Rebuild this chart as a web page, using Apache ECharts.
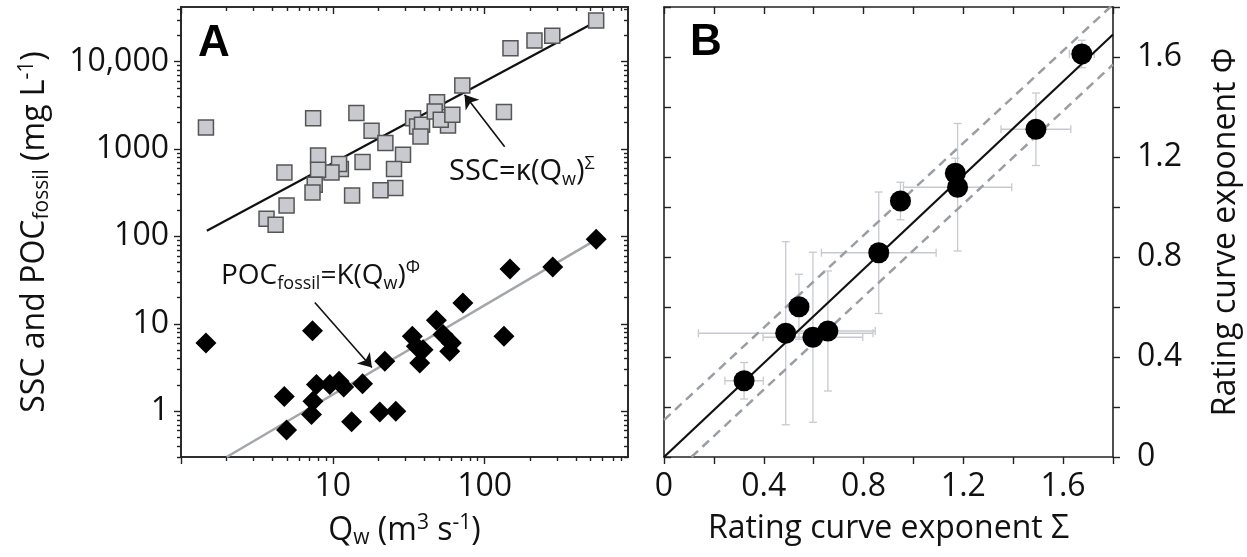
<!DOCTYPE html>
<html><head><meta charset="utf-8">
<script src="https://cdn.jsdelivr.net/npm/echarts@6/dist/echarts.min.js"></script>
<style>html,body{margin:0;padding:0;background:#fff}#c{width:1247px;height:557px}</style>
</head><body><div id="c"></div>
<script>
// ---------- Panel A data ----------
const sscQ   = [1.46, 7.42, 14.3, 18.0, 22.2, 29.0, 25.3, 25.8, 20.6, 15.7, 13.4, 11.3, 11.0, 9.8, 8.0, 8.0, 7.6, 7.35, 4.8, 4.96, 3.66, 4.2, 33.8, 35.9, 38.7, 37.8, 48.6, 46.9, 57.4, 51.4, 61.3, 71.3, 134, 148, 213, 279, 543];
const sscVal = [1760, 2250, 2570, 1610, 1170, 860, 590, 357, 336, 708, 294, 589, 672, 538, 843, 578, 390, 318, 538, 226, 159, 136, 2250, 1810, 1890, 1390, 3430, 2680, 1860, 2160, 2460, 5320, 2640, 14200, 17400, 19700, 29400];
const pocQ   = [1.46, 4.79, 4.96, 7.35, 7.8, 7.4, 7.24, 9.56, 11.0, 11.8, 15.7, 13.3, 20.4, 26.0, 22.0, 33.4, 35.5, 39.3, 37.4, 48.1, 53.2, 60.4, 58.9, 71.9, 134, 147, 281, 543];
const pocVal = [6.05, 1.48, 0.61, 8.36, 2.02, 1.30, 0.92, 2.02, 2.2, 1.9, 2.07, 0.757, 0.98, 1.0, 3.73, 7.2, 5.53, 5.07, 3.57, 10.96, 7.53, 6.05, 4.85, 17.3, 7.2, 42.4, 44.7, 93];
const sscFitQ = [1.48, 571];
const sscFitVal = [116, 30000];
const pocFitQ = [2.0, 543];
const pocFitVal = [0.3, 92];
const qMajorTicks = [1, 10, 100];
const qTickLabels = [10, 100];
const qMinorTicks = [2,3,4,5,6,7,8,9,20,30,40,50,60,70,80,90,200,300,400,500,600,700,800];
const concMajorTicks = [1, 10, 100, 1000, 10000];
const concMinorTicks = [0.3,0.4,0.5,0.6,0.7,0.8,0.9,2,3,4,5,6,7,8,9,20,30,40,50,60,70,80,90,200,300,400,500,600,700,800,900,2000,3000,4000,5000,6000,7000,8000,9000,20000,30000,40000];

// ---------- Panel B data ----------
const sigma    = [0.321, 0.488, 0.541, 0.597, 0.657, 0.861, 0.948, 1.168, 1.177, 1.491, 1.675];
const phi      = [0.305, 0.495, 0.601, 0.479, 0.504, 0.817, 1.024, 1.135, 1.079, 1.311, 1.612];
const sigmaErr = [0.077, 0.35, 0.04, 0.20, 0.19, 0.23, 0.04, 0.03, 0.217, 0.14, 0.05];
const phiErr   = [0.073, 0.366, 0.13, 0.34, 0.24, 0.243, 0.075, 0.06, 0.255, 0.145, 0.055];
const fitSigma = [0, 1.8];
const fitPhi   = [0, 1.69];
const upperSigma = [0, 1.8];
const upperPhi   = [0.148, 1.81];
const lowerSigma = [0.11, 1.8];
const lowerPhi   = [0, 1.57];
const expTicks  = [0, 0.2, 0.4, 0.6, 0.8, 1.0, 1.2, 1.4, 1.6, 1.8];
const expLabels = [0, 0.4, 0.8, 1.2, 1.6];

const FONT = 'Open Sans';
const AX = '#222';
const zip = (a, b) => a.map((v, i) => [v, b[i]]);

function logAxis(grid, pos, min, max, ticks, len, inside, labels, extra) {
  return Object.assign({
    type: 'log', gridIndex: grid, position: pos, min, max, logBase: 10,
    axisLine: { show: true, onZero: false, lineStyle: { color: AX, width: 1.6 } },
    axisTick: { show: true, inside, length: len, customValues: ticks, lineStyle: { color: AX, width: 1.4 } },
    axisLabel: labels ? labels : { show: false },
    splitLine: { show: false }, minorTick: { show: false }
  }, extra || {});
}
function valAxis(grid, pos, inside, labels, extra) {
  return Object.assign({
    type: 'value', gridIndex: grid, position: pos, min: 0, max: 1.8, interval: 0.2,
    axisLine: { show: true, onZero: false, lineStyle: { color: AX, width: 1.6 } },
    axisTick: { show: true, inside, length: 7, customValues: expTicks, lineStyle: { color: AX, width: 1.4 } },
    axisLabel: labels ? labels : { show: false },
    splitLine: { show: false }
  }, extra || {});
}
const labStyle = { color: '#111', fontFamily: FONT, fontSize: 32 };
const richSub = { fontFamily: FONT, fontSize: 21, color: '#111', verticalAlign: 'bottom', lineHeight: 18 };
const richSup = { fontFamily: FONT, fontSize: 21, color: '#111', verticalAlign: 'top', lineHeight: 18 };
const annRich = {
  sub: { fontFamily: FONT, fontSize: 18, fill: '#111', verticalAlign: 'bottom', lineHeight: 14 },
  sup: { fontFamily: FONT, fontSize: 18, fill: '#111', verticalAlign: 'top', lineHeight: 14 }
};

const chart = echarts.init(document.getElementById('c'), null, { renderer: 'canvas' });
const option = {
  backgroundColor: '#fff',
  animation: false,
  grid: [
    { left: 181, top: 7, width: 447, height: 450 },
    { left: 664, top: 7, width: 449, height: 450 }
  ],
  xAxis: [
    logAxis(0, 'bottom', 1, 880, qMajorTicks, 7, false,
      Object.assign({ show: true, margin: 14, customValues: qTickLabels }, labStyle),
      { name: 'Q{sub|w} (m{sup|3} s{sup|-1})', nameLocation: 'middle', nameGap: 56,
        nameTextStyle: Object.assign({ lineHeight: 36, rich: { sub: richSub, sup: richSup } }, labStyle) }),
    logAxis(0, 'bottom', 1, 880, qMinorTicks, 4, false),
    logAxis(0, 'top', 1, 880, qMajorTicks, 7, true),
    logAxis(0, 'top', 1, 880, qMinorTicks, 4, true),
    valAxis(1, 'bottom', false,
      Object.assign({ show: true, margin: 14, customValues: expLabels,
        formatter: v => (v === 0 ? '0' : v.toFixed(1)) }, labStyle),
      { name: 'Rating curve exponent Σ', nameLocation: 'middle', nameGap: 56,
        nameTextStyle: Object.assign({}, labStyle) }),
    valAxis(1, 'top', true)
  ],
  yAxis: [
    logAxis(0, 'left', 0.3, 42000, concMajorTicks, 7, false,
      Object.assign({ show: true, margin: 12, customValues: concMajorTicks,
        formatter: v => (v >= 10000 ? v.toLocaleString('en-US') : String(v)) }, labStyle),
      { name: 'SSC and POC{sub|fossil} (mg L{sup|-1})', nameLocation: 'middle', nameGap: 128, nameRotate: 90,
        nameTextStyle: Object.assign({ lineHeight: 36, rich: { sub: richSub, sup: richSup } }, labStyle) }),
    logAxis(0, 'left', 0.3, 42000, concMinorTicks, 4, false),
    logAxis(0, 'right', 0.3, 42000, concMajorTicks, 7, true),
    logAxis(0, 'right', 0.3, 42000, concMinorTicks, 4, true),
    valAxis(1, 'left', true),
    valAxis(1, 'right', false,
      Object.assign({ show: true, margin: 24, customValues: expLabels,
        formatter: v => (v === 0 ? '0' : v.toFixed(1)) }, labStyle),
      { name: 'Rating curve exponent Φ', nameLocation: 'middle', nameGap: 97, nameRotate: 90,
        nameTextStyle: Object.assign({}, labStyle) })
  ],
  series: [
    { type: 'line', xAxisIndex: 0, yAxisIndex: 0, data: zip(sscFitQ, sscFitVal), symbol: 'none',
      lineStyle: { color: '#111', width: 2.2 }, z: 2 },
    { type: 'scatter', xAxisIndex: 0, yAxisIndex: 0, data: zip(sscQ, sscVal), symbol: 'rect', symbolSize: 15,
      itemStyle: { color: '#c9cacf', borderColor: '#555', borderWidth: 1.5, opacity: 1 }, z: 3,
      markLine: { silent: true, symbol: ['none', 'arrow'], symbolSize: 13, precision: 4,
        label: { show: false }, emphasis: { disabled: true },
        lineStyle: { color: '#111', width: 1.6, type: 'solid', opacity: 1 },
        data: [
          [{ coord: [135.5, 1059] }, { coord: [73.8, 4160] }],
          [{ coord: [7.61, 17.5] }, { coord: [18.1, 3.16] }]
        ] } },
    { type: 'line', xAxisIndex: 0, yAxisIndex: 0, data: zip(pocFitQ, pocFitVal), symbol: 'none',
      lineStyle: { color: '#a3a6aa', width: 2.5 }, z: 2 },
    { type: 'scatter', xAxisIndex: 0, yAxisIndex: 0, data: zip(pocQ, pocVal), symbol: 'diamond', symbolSize: 21,
      itemStyle: { color: '#000', opacity: 1 }, z: 4 },

    { type: 'custom', xAxisIndex: 4, yAxisIndex: 4, clip: true, z: 1,
      data: sigma.map((s, i) => [s, phi[i], sigmaErr[i], phiErr[i]]),
      encode: { x: 0, y: 1 },
      renderItem: function (params, api) {
        const x = api.value(0), y = api.value(1), ex = api.value(2), ey = api.value(3);
        const c = api.coord([x, y]);
        const l = api.coord([x - ex, y]), r = api.coord([x + ex, y]);
        const t = api.coord([x, y + ey]), b = api.coord([x, y - ey]);
        const cap = 4;
        const style = { stroke: '#c6cacf', lineWidth: 1.3 };
        return { type: 'group', children: [
          { type: 'line', shape: { x1: l[0], y1: c[1], x2: r[0], y2: c[1] }, style },
          { type: 'line', shape: { x1: l[0], y1: c[1] - cap, x2: l[0], y2: c[1] + cap }, style },
          { type: 'line', shape: { x1: r[0], y1: c[1] - cap, x2: r[0], y2: c[1] + cap }, style },
          { type: 'line', shape: { x1: c[0], y1: t[1], x2: c[0], y2: b[1] }, style },
          { type: 'line', shape: { x1: c[0] - cap, y1: t[1], x2: c[0] + cap, y2: t[1] }, style },
          { type: 'line', shape: { x1: c[0] - cap, y1: b[1], x2: c[0] + cap, y2: b[1] }, style }
        ] };
      } },
    { type: 'line', xAxisIndex: 4, yAxisIndex: 4, data: zip(upperSigma, upperPhi), symbol: 'none',
      lineStyle: { color: '#9a9ea3', width: 2.5, type: [9, 6] }, z: 2 },
    { type: 'line', xAxisIndex: 4, yAxisIndex: 4, data: zip(lowerSigma, lowerPhi), symbol: 'none',
      lineStyle: { color: '#9a9ea3', width: 2.5, type: [9, 6] }, z: 2 },
    { type: 'line', xAxisIndex: 4, yAxisIndex: 4, data: zip(fitSigma, fitPhi), symbol: 'none',
      lineStyle: { color: '#111', width: 2.2 }, z: 3 },
    { type: 'scatter', xAxisIndex: 4, yAxisIndex: 4, data: zip(sigma, phi), symbol: 'circle', symbolSize: 21,
      itemStyle: { color: '#000', opacity: 1 }, z: 5 }
  ],
  graphic: [
    { type: 'text', left: 198, top: 22, style: { text: 'A', fontFamily: 'Liberation Sans', fontWeight: 'bold', fontSize: 44, fill: '#000' } },
    { type: 'text', left: 690, top: 21, style: { text: 'B', fontFamily: 'Liberation Sans', fontWeight: 'bold', fontSize: 44, fill: '#000' } },
    { type: 'text', left: 449, top: 155, style: {
        text: 'SSC=κ(Q{sub|w}){sup|Σ}', fontFamily: FONT, fontSize: 29, fill: '#111', lineHeight: 34, rich: annRich } },
    { type: 'text', left: 221, top: 259, style: {
        text: 'POC{sub|fossil}=Κ(Q{sub|w}){sup|Φ}', fontFamily: FONT, fontSize: 28, fill: '#111', lineHeight: 34, rich: annRich } }
  ]
};
chart.setOption(option);
</script>
</body></html>
